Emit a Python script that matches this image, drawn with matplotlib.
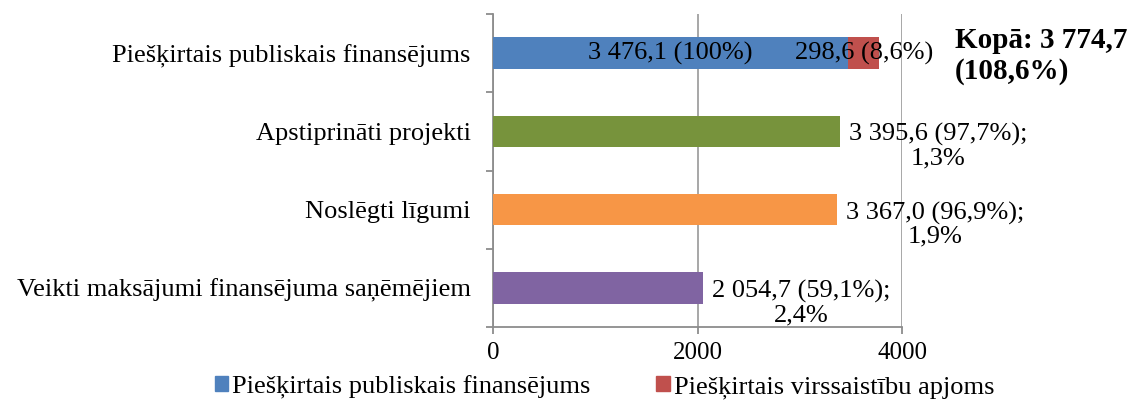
import matplotlib
matplotlib.use("Agg")
import matplotlib.pyplot as plt
import numpy as np
from matplotlib.patches import Patch

categories = ["Piešķirtais publiskais finansējums", "Apstiprināti projekti",
              "Noslēgti līgumi", "Veikti maksājumi finansējuma saņēmējiem"]
values = [3476.1, 3395.6, 3367.0, 2054.7]
over_value = [298.6, 0, 0, 0]
bar_colors = ["#4F81BD", "#77933C", "#F79646", "#8064A2"]
over_color = "#C0504D"
shares = ["100%", "97,7%", "96,9%", "59,1%"]
extra_share = ["", "1,3%", "1,9%", "2,4%"]
over_label = "298,6 (8,6%)"
total_label = "Kopā: 3 774,7\n(108,6%)"
xticks = [0, 2000, 4000]
legend_labels = ["Piešķirtais publiskais finansējums", "Piešķirtais virssaistību apjoms"]

def fmt(v):
    return f"{v:,.1f}".replace(",", " ").replace(".", ",")

FS = 19
plt.rcParams['font.family'] = ['Liberation Serif', 'DejaVu Serif']
fig = plt.figure(figsize=(11.3, 4.03), dpi=100)
ax = fig.add_axes([493/1130, 1-327/403, (902-493)/1130, (327-14)/403])

y = np.arange(len(categories))[::-1]
ax.barh(y, values, height=0.4, color=bar_colors, zorder=3)
ax.barh(y[0], over_value[0], left=values[0], height=0.4, color=over_color, zorder=3)

ax.set_xlim(0, 4000)
ax.set_ylim(-0.5, len(categories) - 0.5)
ax.set_xticks(xticks)
ax.set_xticklabels([str(t) for t in xticks], fontsize=18)
ax.set_yticks(y)
ax.set_yticklabels(categories, fontsize=FS)
ax.tick_params(axis='y', which='major', length=0, pad=16)
ax.set_yticks(np.arange(-0.5, len(categories)), minor=True)
ax.tick_params(axis='y', which='minor', length=5, color='#8C8C8C', width=1.3)
ax.tick_params(axis='x', length=5, color='#8C8C8C', width=1.3, pad=6)
ax.grid(axis='x', color='#A0A0A0', linewidth=1.3, zorder=0)
for s in ['top', 'right']:
    ax.spines[s].set_visible(False)
for s in ['left', 'bottom']:
    ax.spines[s].set_color('#8C8C8C')
    ax.spines[s].set_linewidth(1.3)

# labels
ax.text(values[0] / 2, y[0], f"{fmt(values[0])} ({shares[0]})", ha='center', va='center',
        fontsize=FS, zorder=4)
ax.text(values[0] + over_value[0] / 2, y[0], over_label, ha='center', va='center',
        fontsize=FS, zorder=4)
ax.annotate(total_label, xy=(1, y[0]), xycoords=('axes fraction', 'data'),
            xytext=(53, -3), textcoords='offset pixels', ha='left', va='center',
            fontsize=21, fontweight='bold', linespacing=1.15)
for i in range(1, len(categories)):
    ax.annotate(f"{fmt(values[i])} ({shares[i]});\n{extra_share[i]}", xy=(values[i], y[i]),
                xytext=(9, -15), textcoords='offset pixels', ha='left', va='center',
                multialignment='center', fontsize=FS, linespacing=1.07, zorder=4)

handles = [Patch(color=bar_colors[0]), Patch(color=over_color)]
fig.legend(handles, legend_labels, loc='center', bbox_to_anchor=(0.535, 1-387/403),
           ncol=2, frameon=False, fontsize=FS, handlelength=0.5, handleheight=0.5,
           handletextpad=0.15, columnspacing=2.5, borderpad=0, borderaxespad=0)

fig.savefig("out.png", dpi=100)
